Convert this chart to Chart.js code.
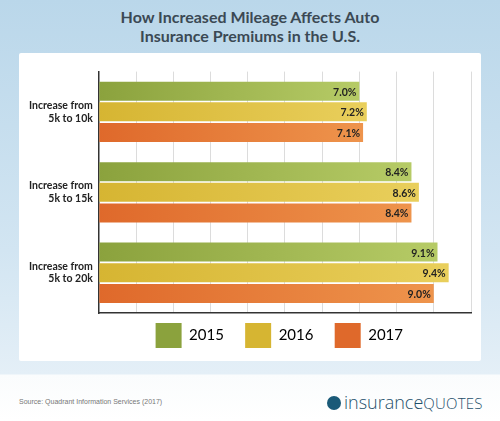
<!DOCTYPE html>
<html>
<head>
<meta charset="utf-8">
<script src="https://cdn.jsdelivr.net/npm/chart.js@4"></script>
<style>
  html, body { margin: 0; padding: 0; }
  body {
    width: 500px; height: 421px; position: relative; overflow: hidden;
    background: linear-gradient(#bad7ea 0px, #d2e5f2 250px, #e4eff7 374px, #fafcfd 375px, #ffffff 421px);
    font-family: Lato, "Open Sans", sans-serif;
  }
  #title {
    position: absolute; left: 0; top: 7px; width: 500px; text-align: center;
    font: bold 16px/19px Lato, sans-serif; color: #3b4954;
  }
  #panel {
    position: absolute; left: 19px; top: 53px; width: 462px; height: 308px;
    background: #fff; border-radius: 2px;
  }
  #wrap { position: absolute; left: 19px; top: 53px; width: 462px; height: 308px; }
  #source {
    position: absolute; left: 19px; top: 398px; font: 7px "Liberation Sans", sans-serif; color: #777;
  }
  #logo {
    position: absolute; left: 327px; top: 392px; height: 20px; color: #1d4f6a;
    font: 300 18px/20px "Open Sans", sans-serif; white-space: nowrap;
  }
  #logo .dot {
    display: inline-block; width: 14px; height: 14px; border-radius: 50%;
    background: #1a5a78; vertical-align: -1px; margin-right: 3px;
  }
  #logo .q { font-size: 15px; letter-spacing: 0.2px; }
</style>
</head>
<body>
<div id="title">How Increased Mileage Affects Auto<br>Insurance Premiums in the U.S.</div>
<div id="panel"></div>
<div id="wrap"><canvas id="barChart"></canvas></div>
<div id="source">Source: Quadrant Information Services (2017)</div>
<div id="logo"><span class="dot"></span>insurance<span class="q">QUOTES</span></div>
<script>
// categories and values
const categories = [['Increase from', '5k to 10k'], ['Increase from', '5k to 15k'], ['Increase from', '5k to 20k']];
const years = ['2015', '2016', '2017'];
const values2015 = [7.0, 8.4, 9.1];
const values2016 = [7.2, 8.6, 9.4];
const values2017 = [7.1, 8.4, 9.0];

const colorStops = [
    ['#8ba23d', '#b6cb66'],
    ['#d6b532', '#e9cf5c'],
    ['#df692b', '#ee944c'],
];

function barFill(i) {
    return (ctx) => {
        const chart = ctx.chart;
        if (!chart.chartArea || ctx.raw == null) return colorStops[i][0];
        const x0 = chart.scales.x.getPixelForValue(0);
        const x1 = chart.scales.x.getPixelForValue(ctx.raw);
        const g = chart.ctx.createLinearGradient(x0, 0, x1, 0);
        g.addColorStop(0, colorStops[i][0]);
        g.addColorStop(1, colorStops[i][1]);
        return g;
    };
}

// value labels at the end of each bar
const valueLabels = {
    id: 'valueLabels',
    afterDatasetsDraw(chart) {
        const c = chart.ctx;
        c.save();
        c.font = 'bold 10.5px Lato, sans-serif';
        c.fillStyle = '#222';
        c.textAlign = 'right';
        c.textBaseline = 'middle';
        chart.data.datasets.forEach((ds, i) => {
            chart.getDatasetMeta(i).data.forEach((bar, j) => {
                c.fillText(ds.data[j].toFixed(1) + '%', bar.x - 3, bar.y + 1);
            });
        });
        c.restore();
    }
};

const sets = [values2015, values2016, values2017];

document.addEventListener("DOMContentLoaded", () => {
    new Chart(document.querySelector('#barChart'), {
        type: 'bar',
        data: {
            labels: categories,
            datasets: years.map((y, i) => ({
                label: y,
                data: sets[i],
                backgroundColor: barFill(i),
                categoryPercentage: 0.77,
                barPercentage: 0.92,
            }))
        },
        options: {
            indexAxis: 'y',
            responsive: true,
            maintainAspectRatio: false,
            animation: false,
            layout: { padding: { top: 12, right: 10, left: 4, bottom: 3 } },
            scales: {
                x: {
                    min: 0, max: 10,
                    ticks: { display: false, stepSize: 1 },
                    grid: { color: '#dcdcdc', drawTicks: false },
                    border: { color: '#333', width: 1.5 }
                },
                y: {
                    ticks: { color: '#222', font: { family: 'Lato, sans-serif', size: 10.5, weight: 'bold' }, padding: 6 },
                    grid: { display: false, drawTicks: false },
                    border: { color: '#333', width: 1.5 }
                }
            },
            plugins: {
                tooltip: { enabled: false },
                legend: {
                    position: 'bottom',
                    fullSize: false,
                    labels: {
                        boxWidth: 26, boxHeight: 25, padding: 10,
                        color: '#333',
                        font: { family: 'Lato, sans-serif', size: 15 },
                        generateLabels: (chart) => years.map((y, i) => ({
                            text: y + '\u2003',
                            fillStyle: colorStops[i][0],
                            strokeStyle: colorStops[i][0],
                            lineWidth: 0,
                            datasetIndex: i,
                            hidden: false
                        }))
                    }
                }
            }
        },
        plugins: [valueLabels]
    });
});
</script>
</body>
</html>
